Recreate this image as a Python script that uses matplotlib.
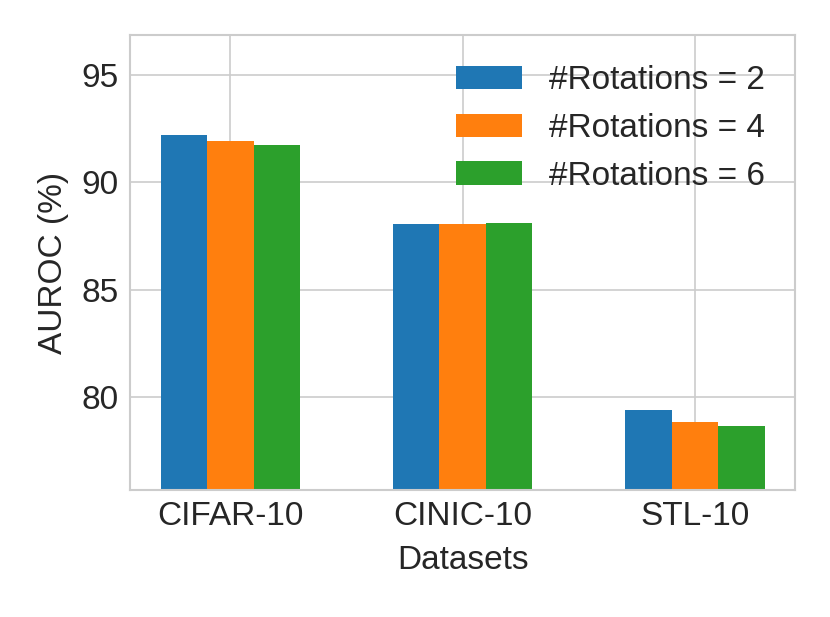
import matplotlib
matplotlib.use('Agg')
import matplotlib.pyplot as plt
import numpy as np

plt.style.use('seaborn-v0_8-whitegrid')
plt.rcParams['font.family'] = ['Liberation Sans', 'DejaVu Sans']

datasets = ['CIFAR-10', 'CINIC-10', 'STL-10']
labels = ['#Rotations = 2', '#Rotations = 4', '#Rotations = 6']
rot2 = [92.22, 88.08, 79.39]
rot4 = [91.94, 88.06, 78.84]
rot6 = [91.75, 88.10, 78.66]
colors = ['#1f77b4', '#ff7f0e', '#2ca02c']

fig = plt.figure(figsize=(830 / 150, 617 / 150), dpi=150)
ax = fig.add_axes([0.157, 0.206, 0.801, 0.737])

x = np.arange(len(datasets))
w = 0.2
for i, (vals, lab) in enumerate(zip([rot2, rot4, rot6], labels)):
    ax.bar(x + (i - 1) * w, vals, w, label=lab, color=colors[i])

ax.set_ylim(75.67, 96.86)
ax.set_xticks(x)
ax.set_xticklabels(datasets)
ax.set_yticks([80, 85, 90, 95])
ax.tick_params(labelsize=16, pad=5.5)
ax.set_xlabel('Datasets', fontsize=16, labelpad=6)
ax.set_ylabel('AUROC (%)', fontsize=16, labelpad=6)
for s in ax.spines.values():
    s.set_visible(True)
    s.set_color('#cccccc')
ax.legend(fontsize=16, loc='upper right')

fig.savefig('out.png', dpi=150)
